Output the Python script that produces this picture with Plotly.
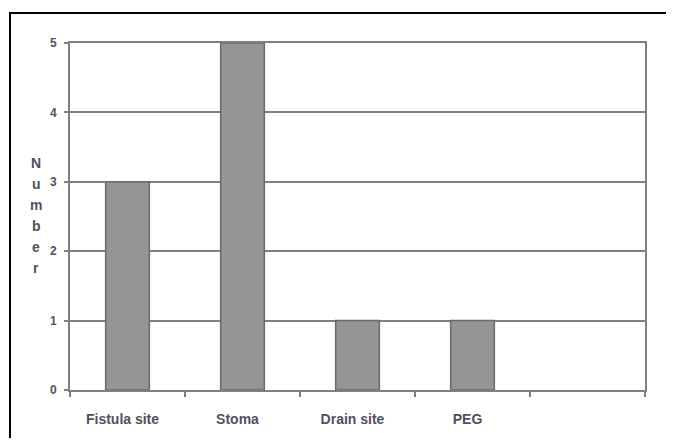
import plotly.graph_objects as go

categories = ["Fistula site", "Stoma", "Drain site", "PEG", " "]
values = [3, 5, 1, 1, None]
y_ticks = [0, 1, 2, 3, 4, 5]
y_title = "Number"

# page body has an 8px margin, figure placed at (8,8)
OFF = 8
W, H = 674 - OFF, 446 - 2 * OFF
L, T = 70 - OFF, 43 - OFF
R = 674 - 645
B = H - (390 - OFF)
pw, ph = W - L - R, H - T - B

txt = "#50505f"
fnt = "Liberation Sans, Arial"
fig = go.Figure(go.Bar(
    x=categories, y=values, width=0.38,
    marker=dict(color="#959595", line=dict(color="#6a6a6a", width=1.5)),
))
fig.update_layout(
    width=W, height=H, margin=dict(l=L, r=R, t=T, b=B),
    paper_bgcolor="white", plot_bgcolor="white", showlegend=False,
    font=dict(family=fnt, size=12, color=txt),
)
fig.update_xaxes(
    type="category", tickson="boundaries", ticks="outside", ticklen=5,
    tickcolor="#808080", tickwidth=2, showline=True, mirror=True,
    linecolor="#808080", linewidth=2,
    showgrid=False, tickfont=dict(size=14, color=txt, weight="bold"), range=[-0.5, 4.5],
    ticklabelstandoff=15, ticklabelshift=-5,
)
fig.update_yaxes(
    range=[0, 5], tickvals=y_ticks, ticks="outside", ticklen=4, tickcolor="#808080",
    tickwidth=2, showline=True, mirror=True, linecolor="#808080", linewidth=2,
    showgrid=True, gridcolor="#808080", gridwidth=2, zeroline=False,
    tickfont=dict(size=12, color=txt, weight="bold"), ticklabelstandoff=5,
)
for i, ch in enumerate(y_title):
    fig.add_annotation(
        text=ch, xref="paper", yref="paper",
        x=(36 - 70) / pw, y=(390 - (163 + 21 * i)) / ph, showarrow=False,
        font=dict(size=14, color=txt, family=fnt, weight="bold"),
        xanchor="center", yanchor="middle",
    )
fig.add_shape(
    type="rect", xref="paper", yref="paper",
    x0=(10 - 70) / pw, x1=(670 - 70) / pw, y0=(390 - 460) / ph, y1=(390 - 13) / ph,
    line=dict(color="black", width=2), fillcolor="rgba(0,0,0,0)", layer="below",
)
fig.write_html("out.html")
